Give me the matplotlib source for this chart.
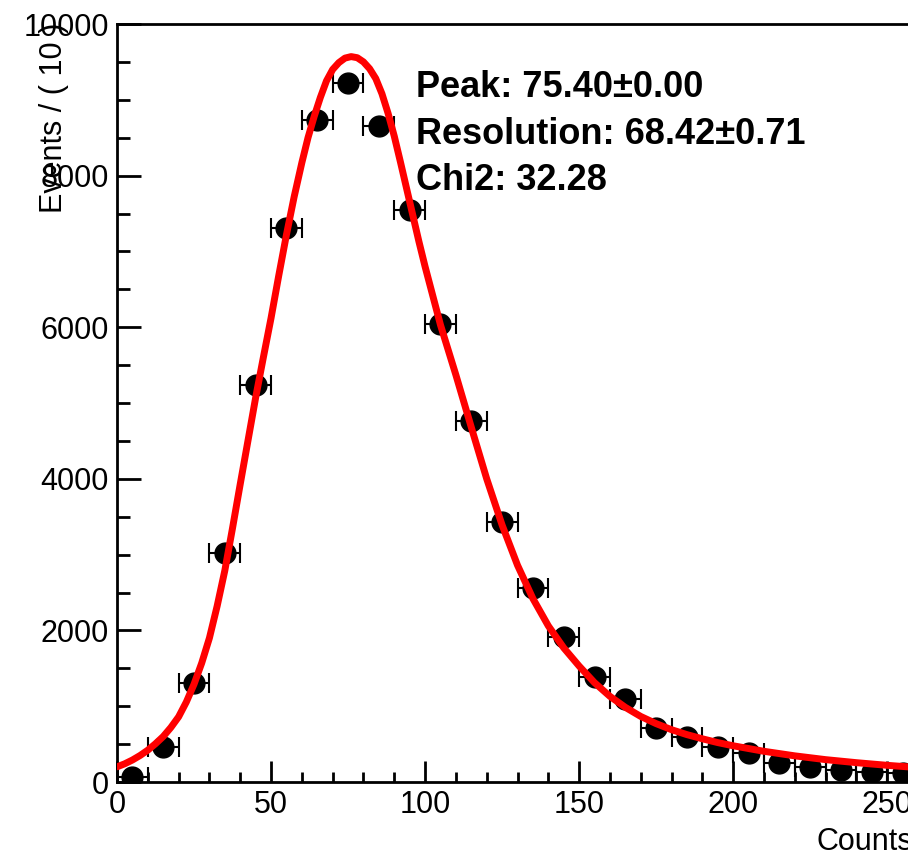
import numpy as np
import matplotlib
matplotlib.use("Agg")
import matplotlib.pyplot as plt
from matplotlib.ticker import MultipleLocator

plt.rcParams['font.family'] = ['Liberation Sans', 'DejaVu Sans']

# binned data (bin centres, counts)
bin_centres = [5, 15, 25, 35, 45, 55, 65, 75, 85, 95, 105, 115, 125, 135, 145,
               155, 165, 175, 185, 195, 205, 215, 225, 235, 245, 255]
counts = [70, 465, 1310, 3017, 5237, 7305, 8733, 9218, 8654, 7546, 6042, 4767,
          3426, 2555, 1917, 1390, 1091, 717, 598, 466, 378, 246, 202, 158, 136, 123]
bin_half_width = 5

# fitted curve
fit_x = [0, 2.5, 5, 7.5, 10, 12.5, 15, 17.5, 20, 22.5, 25, 27.5, 30, 32.5, 35,
         37.5, 40, 42.5, 45, 47.5, 50, 52.5, 55, 57.5, 60, 62, 64, 66, 68, 70,
         72, 74, 76, 78, 80, 82, 84, 86, 88, 90, 92, 94, 96, 98, 100, 105, 110,
         115, 120, 125, 130, 135, 140, 145, 150, 155, 160, 165, 170, 175, 180,
         185, 190, 195, 200, 210, 220, 230, 240, 250, 260]
fit_y = [200, 240, 290, 350, 420, 505, 600, 720, 860, 1055, 1290, 1570, 1900,
         2320, 2790, 3350, 3930, 4500, 5070, 5600, 6120, 6680, 7220, 7720, 8170,
         8500, 8780, 9030, 9250, 9400, 9490, 9550, 9570, 9555, 9500, 9410, 9280,
         9080, 8820, 8520, 8180, 7830, 7480, 7130, 6800, 6030, 5370, 4680, 4000,
         3390, 2860, 2420, 2060, 1770, 1530, 1310, 1130, 985, 865, 770, 690, 625,
         570, 520, 478, 405, 345, 295, 255, 220, 190]

fit_labels = ["Peak: 75.40\u00b10.00", "Resolution: 68.42\u00b10.71", "Chi2: 32.28"]

W, H = 908, 850
fig = plt.figure(figsize=(W / 100, H / 100), dpi=100)
ax = fig.add_axes([117 / W, 68 / H, 801 / W, 758 / H])

ax.plot(fit_x, fit_y, color='#ff0000', lw=5, zorder=3,
        solid_capstyle='round', solid_joinstyle='round')
ax.errorbar(bin_centres, counts, xerr=bin_half_width, fmt='o', color='black',
            ms=15, elinewidth=1.5, capsize=7, capthick=1.5, zorder=2)

ax.set_xlim(0, 260)
ax.set_ylim(0, 10000)

ax.xaxis.set_major_locator(MultipleLocator(50))
ax.xaxis.set_minor_locator(MultipleLocator(10))
ax.yaxis.set_major_locator(MultipleLocator(2000))
ax.yaxis.set_minor_locator(MultipleLocator(500))

ax.tick_params(which='both', direction='in', width=2, labelsize=22)
ax.tick_params(axis='y', which='major', length=17, pad=6)
ax.tick_params(axis='y', which='minor', length=9)
ax.tick_params(axis='x', which='major', length=15, pad=6)
ax.tick_params(axis='x', which='minor', length=7.5)

for side in ['left', 'bottom', 'top']:
    ax.spines[side].set_linewidth(2)
ax.spines['right'].set_visible(False)

# ROOT-like axis titles (partly outside the canvas)
fig.text(54 / W, (H - 213) / H, "Events / ( 10 )", rotation=90,
         ha='center', va='bottom', fontsize=22)
fig.text(816 / W, 0.0, "Counts", ha='left', va='baseline', fontsize=22)

baselines = [97, 144, 190]
for label, yb in zip(fit_labels, baselines):
    fig.text(416 / W, (H - yb) / H, label, ha='left', va='baseline',
             fontsize=26, fontweight='bold')

fig.savefig("out.png", dpi=100)
